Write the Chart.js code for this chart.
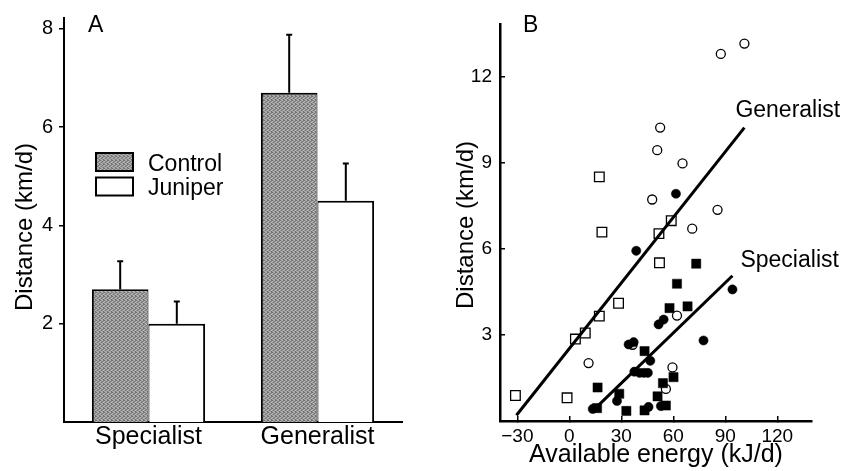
<!DOCTYPE html>
<html>
<head>
<meta charset="utf-8">
<script src="https://cdn.jsdelivr.net/npm/chart.js@4.4.0/dist/chart.umd.min.js"></script>
<style>
  html, body { margin: 0; padding: 0; background: #fff; }
  #wrap { position: relative; width: 844px; height: 471px; }
  canvas { position: absolute; top: 0; }
  #panelA { left: 0; }
  #panelB { left: 430px; }
</style>
</head>
<body>
<div id="wrap">
  <canvas id="panelA" width="430" height="471"></canvas>
  <canvas id="panelB" width="414" height="471"></canvas>
</div>
<script>
// --- panel A: daily distance, means and error
const groups = ['Specialist', 'Generalist'];
const controlMean = [2.70, 6.70];
const controlErr = [0.57, 1.18];
const juniperMean = [2.00, 4.50];
const juniperErr = [0.45, 0.76];
const ticksA = [2, 4, 6, 8];

// --- panel B: distance vs available energy
const openCircles = [
  {x: 87.4, y: 12.81}, {x: 101.0, y: 13.17}, {x: 52.4, y: 10.24}, {x: 50.7, y: 9.45},
  {x: 65.3, y: 8.99}, {x: 47.8, y: 7.73}, {x: 85.5, y: 7.37}, {x: 70.9, y: 6.71},
  {x: 11.1, y: 2.02}, {x: 62.1, y: 3.68}, {x: 59.5, y: 1.87}, {x: 55.7, y: 1.12},
  {x: 36.5, y: 2.66}
];
const openSquares = [
  {x: 17.3, y: 8.52}, {x: 18.8, y: 6.59}, {x: 58.8, y: 6.99}, {x: 51.7, y: 6.54},
  {x: 52.0, y: 5.52}, {x: 17.3, y: 3.66}, {x: 28.4, y: 4.11}, {x: 9.2, y: 3.07},
  {x: 3.5, y: 2.86}, {x: -31.1, y: 0.89}, {x: -1.3, y: 0.81}
];
const filledCircles = [
  {x: 61.5, y: 7.93}, {x: 38.6, y: 5.94}, {x: 94.1, y: 4.59}, {x: 77.4, y: 2.81},
  {x: 54.4, y: 3.54}, {x: 51.5, y: 3.37}, {x: 37.1, y: 2.75}, {x: 34.2, y: 2.67},
  {x: 46.7, y: 2.10}, {x: 37.5, y: 1.72}, {x: 40.5, y: 1.68}, {x: 43.0, y: 1.68},
  {x: 45.3, y: 1.68}, {x: 27.5, y: 0.70}, {x: 45.7, y: 0.49}, {x: 52.8, y: 0.52},
  {x: 13.5, y: 0.42}
];
const filledSquares = [
  {x: 73.2, y: 5.49}, {x: 62.1, y: 4.79}, {x: 57.8, y: 3.94}, {x: 68.2, y: 4.00},
  {x: 43.4, y: 2.44}, {x: 60.1, y: 1.53}, {x: 54.0, y: 1.32}, {x: 50.9, y: 0.86},
  {x: 28.8, y: 0.95}, {x: 32.9, y: 0.35}, {x: 43.4, y: 0.37}, {x: 55.7, y: 0.54},
  {x: 16.3, y: 1.17}, {x: 16.0, y: 0.45}
];
const generalistLine = [{x: -30.5, y: 0.2}, {x: 101.0, y: 10.24}];
const specialistLine = [{x: 16.0, y: 0.5}, {x: 94.1, y: 5.07}];
const ticksBx = [-30, 0, 30, 60, 90, 120];
const ticksBy = [3, 6, 9, 12];

const FONT = '"Liberation Sans", Arial, Helvetica, sans-serif';
Chart.defaults.font.family = FONT;
Chart.defaults.color = '#000';

// grey stipple like the printed bars
function makeStipple() {
  const c = document.createElement('canvas');
  c.width = 4; c.height = 4;
  const g = c.getContext('2d');
  g.fillStyle = '#999999';
  g.fillRect(0, 0, 4, 4);
  g.fillStyle = '#737373';
  [[0, 0], [2, 1], [1, 2], [3, 3], [3, 0]].forEach(p => g.fillRect(p[0], p[1], 1, 1));
  g.fillStyle = '#bababa';
  [[2, 0], [0, 1], [3, 2], [1, 3]].forEach(p => g.fillRect(p[0], p[1], 1, 1));
  return g.createPattern(c, 'repeat');
}
const stipple = makeStipple();

const errorBars = {
  id: 'errorBars',
  afterDatasetsDraw(chart) {
    const ctx = chart.ctx;
    const y = chart.scales.y;
    ctx.save();
    ctx.strokeStyle = '#000';
    ctx.lineWidth = 2;
    chart.data.datasets.forEach((ds, i) => {
      chart.getDatasetMeta(i).data.forEach((bar, j) => {
        const top = y.getPixelForValue(ds.data[j] + ds.errors[j]);
        ctx.beginPath();
        ctx.moveTo(bar.x, bar.y);
        ctx.lineTo(bar.x, top);
        ctx.moveTo(bar.x - 3, top);
        ctx.lineTo(bar.x + 3, top);
        ctx.stroke();
      });
    });
    ctx.restore();
  }
};

function vText(ctx, text, x, y, size) {
  ctx.save();
  ctx.translate(x, y);
  ctx.rotate(-Math.PI / 2);
  ctx.font = size + 'px ' + FONT;
  ctx.textAlign = 'center';
  ctx.textBaseline = 'alphabetic';
  ctx.fillText(text, 0, 0);
  ctx.restore();
}

const extrasA = {
  id: 'extrasA',
  afterDraw(chart) {
    const ctx = chart.ctx;
    ctx.save();
    ctx.fillStyle = '#000';
    ctx.font = '23px ' + FONT;
    ctx.textBaseline = 'alphabetic';
    ctx.fillText('A', 88, 32);
    vText(ctx, 'Distance (km/d)', 32, 227, 24);

    // legend
    const ds = chart.data.datasets;
    const rows = [171, 195];
    ds.forEach((d, i) => {
      const top = i === 0 ? 153 : 177.5;
      ctx.fillStyle = i === 0 ? stipple : '#fff';
      ctx.fillRect(96, top, 37, 18);
      ctx.strokeStyle = '#000';
      ctx.lineWidth = 2;
      ctx.strokeRect(96, top, 37, 18);
      ctx.fillStyle = '#000';
      ctx.font = '23px ' + FONT;
      ctx.fillText(d.label, 148, rows[i]);
    });
    ctx.restore();
  }
};

new Chart(document.getElementById('panelA'), {
  type: 'bar',
  data: {
    labels: groups,
    datasets: [
      {
        label: 'Control', data: controlMean, errors: controlErr,
        backgroundColor: stipple, borderColor: '#000',
        borderWidth: {top: 2, left: 2, right: 1, bottom: 0},
        categoryPercentage: 0.67, barPercentage: 1
      },
      {
        label: 'Juniper', data: juniperMean, errors: juniperErr,
        backgroundColor: '#fff', borderColor: '#000',
        borderWidth: {top: 2, left: 1, right: 2, bottom: 0},
        categoryPercentage: 0.67, barPercentage: 1
      }
    ]
  },
  options: {
    responsive: false,
    animation: false,
    devicePixelRatio: 1,
    layout: {padding: {top: 13, right: 28, left: 0, bottom: 0}},
    plugins: {legend: {display: false}, tooltip: {enabled: false}},
    scales: {
      x: {
        grid: {display: false, drawTicks: false},
        border: {display: true, color: '#000', width: 2},
        ticks: {font: {size: 25}, padding: 0},
        afterFit(s) { s.height = 49; }
      },
      y: {
        min: 0, max: 8.22,
        afterBuildTicks(s) { s.ticks = ticksA.map(v => ({value: v})); },
        grid: {display: true, drawOnChartArea: false, drawTicks: true, tickLength: 5, color: '#000', lineWidth: 1.5},
        border: {display: true, color: '#000', width: 2},
        ticks: {font: {size: 20}, padding: 6},
        afterFit(s) { s.width = 64; }
      }
    }
  },
  plugins: [errorBars, extrasA]
});

const extrasB = {
  id: 'extrasB',
  afterDraw(chart) {
    const ctx = chart.ctx;
    const x = chart.scales.x, y = chart.scales.y;
    ctx.save();
    ctx.fillStyle = '#000';
    ctx.font = '23px ' + FONT;
    ctx.textBaseline = 'alphabetic';
    ctx.fillText('B', 93, 32);
    vText(ctx, 'Distance (km/d)', 43, 225, 24);

    const gEnd = generalistLine[generalistLine.length - 1];
    const sEnd = specialistLine[specialistLine.length - 1];
    ctx.font = '23px ' + FONT;
    ctx.fillText('Generalist', x.getPixelForValue(gEnd.x) - 9, y.getPixelForValue(gEnd.y) - 11);
    ctx.fillText('Specialist', x.getPixelForValue(sEnd.x) + 8, y.getPixelForValue(sEnd.y) - 9);
    ctx.restore();
  }
};

const lineStyle = {type: 'line', showLine: true, borderColor: '#000', borderWidth: 3, pointRadius: 0, fill: false};

new Chart(document.getElementById('panelB'), {
  type: 'scatter',
  data: {
    datasets: [
      Object.assign({label: 'Generalist', data: generalistLine}, lineStyle),
      Object.assign({label: 'Specialist', data: specialistLine}, lineStyle),
      {label: 'filled circles', data: filledCircles, pointStyle: 'circle', pointRadius: 4.6,
        backgroundColor: '#000', borderColor: '#000', borderWidth: 0.5},
      {label: 'filled squares', data: filledSquares, pointStyle: 'rect', pointRadius: 6.5,
        backgroundColor: '#000', borderColor: '#000', borderWidth: 0.5},
      {label: 'open squares', data: openSquares, pointStyle: 'rect', pointRadius: 6.8,
        backgroundColor: '#fff', borderColor: '#000', borderWidth: 1.3},
      {label: 'open circles', data: openCircles, pointStyle: 'circle', pointRadius: 4.5,
        backgroundColor: '#fff', borderColor: '#000', borderWidth: 1.3}
    ]
  },
  options: {
    responsive: false,
    animation: false,
    devicePixelRatio: 1,
    layout: {padding: {top: 13, right: 32, left: 0, bottom: 0}},
    plugins: {legend: {display: false}, tooltip: {enabled: false}},
    scales: {
      x: {
        type: 'linear', min: -40, max: 140,
        afterBuildTicks(s) { s.ticks = ticksBx.map(v => ({value: v})); },
        ticks: {
          font: {size: 19}, padding: 9,
          callback: v => v < 0 ? '\u2212' + Math.abs(v) : String(v)
        },
        grid: {display: true, drawOnChartArea: false, drawTicks: true, tickLength: -5, color: '#000', lineWidth: 1.5},
        border: {display: true, color: '#000', width: 2.5},
        title: {display: true, text: 'Available energy (kJ/d)', font: {size: 25}, padding: {top: 0, bottom: 1}},
        afterFit(s) { s.height = 50; }
      },
      y: {
        min: 0, max: 13.84,
        afterBuildTicks(s) { s.ticks = ticksBy.map(v => ({value: v})); },
        ticks: {font: {size: 19}, padding: 13},
        grid: {display: true, drawOnChartArea: false, drawTicks: true, tickLength: -5, color: '#000', lineWidth: 1.5},
        border: {display: true, color: '#000', width: 2.5},
        afterFit(s) { s.width = 70; }
      }
    }
  },
  plugins: [extrasB]
});
</script>
</body>
</html>
